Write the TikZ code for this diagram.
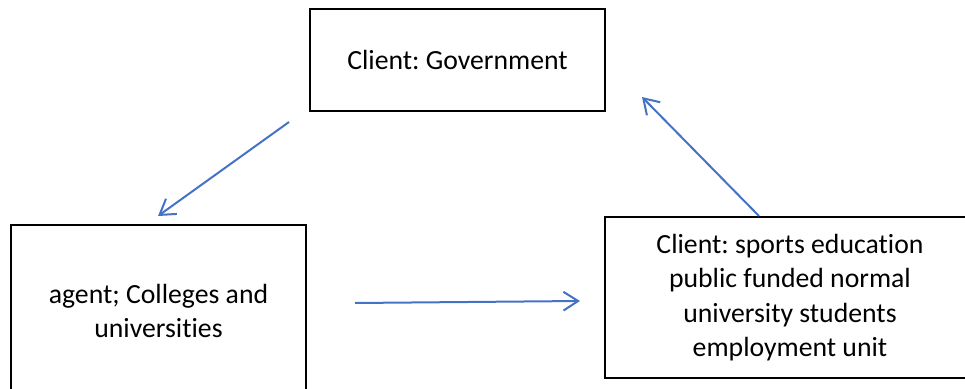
\documentclass[tikz,border=0pt]{standalone}
\usepackage{fontspec}
\setmainfont{Carlito}[Ligatures=NoCommon]
\usepackage{tikz}
\usetikzlibrary{positioning, arrows.meta, calc}

\definecolor{linkblue}{HTML}{4472C4}
\frenchspacing

\begin{document}
\begin{tikzpicture}[
    x=0.75pt, y=-0.75pt,
    party/.style={rectangle, draw, line width=1.6pt, align=center, inner sep=0pt,
                  font=\fontsize{20.8}{25.8}\selectfont},
    arrow/.style={-{Straight Barb[length=11pt, width=14pt]}, linkblue, line width=1.5pt},
]

% Frame
\clip (0, 0) rectangle (965, 389);
\useasboundingbox (0, 0) rectangle (965, 389);

% Parties
\node[party, minimum width=221pt, minimum height=76.5pt] (government) at (457.5, 60) {Client: Government};
\node[party, minimum width=221pt, minimum height=129pt] (colleges) at (158.5, 311) {agent; Colleges and\\universities};
\node[party, minimum width=277.5pt, minimum height=120.75pt] (employer) at (790, 297.5) {Client: sports education\\public funded normal\\university students\\employment unit};

% Arrow ends
\coordinate (gov_out) at (289, 122);
\coordinate (col_in) at (158, 216);
\coordinate (col_out) at (355, 303);
\coordinate (emp_in) at (580, 301);
\coordinate (emp_out) at (759, 216);
\coordinate (gov_in) at (642, 97);

% Flows
\draw[arrow] (gov_out) -- (col_in);
\draw[arrow] (col_out) -- (emp_in);
\draw[arrow] (emp_out) -- (gov_in);

\end{tikzpicture}
\end{document}
